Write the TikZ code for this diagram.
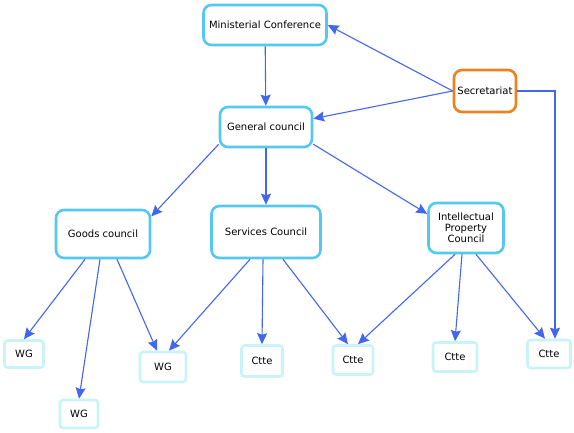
\documentclass[tikz,border=0pt]{standalone}
\usepackage{fontspec}
\setmainfont{DejaVu Sans}
\usetikzlibrary{arrows.meta}
\definecolor{boxcyan}{RGB}{84,200,240}
\definecolor{palecyan}{RGB}{200,244,248}
\definecolor{secorange}{RGB}{238,128,30}
\definecolor{linkblue}{RGB}{68,102,238}

\begin{document}
\begin{tikzpicture}[x=1pt, y=-1pt, >={Stealth[length=11pt,width=10pt,inset=1.5pt]}, every node/.style={font=\fontsize{10}{12.5}\selectfont}]
\tikzstyle{body}=[rectangle, draw=boxcyan, line width=2.6pt, rounded corners=8pt, fill=white, align=center, inner sep=2pt]
\tikzstyle{sec}=[body, draw=secorange]
\tikzstyle{group}=[rectangle, draw=palecyan, line width=2.6pt, rounded corners=3pt, fill=white, align=center, inner sep=2pt]
\tikzstyle{link}=[->, draw=linkblue, line width=1.1pt]
\useasboundingbox (0,0) rectangle (574,433);
\node[body, minimum width=123pt, minimum height=40pt] (conf) at (265,25) {Ministerial Conference};
\node[sec, minimum width=62pt, minimum height=42pt] (secr) at (485,91) {Secretariat};
\node[body, minimum width=92pt, minimum height=40pt] (general) at (266,127) {General council};
\node[body, minimum width=94pt, minimum height=48pt] (goods) at (103,234) {Goods council};
\node[body, minimum width=109pt, minimum height=52pt] (services) at (266,232) {Services Council};
\node[body, minimum width=75pt, minimum height=50pt] (trips) at (466,228) {Intellectual\\[-1.5pt]Property\\[-1.5pt]Council};
\node[group, minimum width=39pt, minimum height=27pt] (wga) at (24,354) {WG};
\node[group, minimum width=38pt, minimum height=28pt] (wgb) at (79,414) {WG};
\node[group, minimum width=46pt, minimum height=30pt] (wgc) at (163,367) {WG};
\node[group, minimum width=41pt, minimum height=31pt] (cta) at (262,361) {Ctte};
\node[group, minimum width=40pt, minimum height=29pt] (ctb) at (353,360) {Ctte};
\node[group, minimum width=44pt, minimum height=29pt] (ctc) at (455,357) {Ctte};
\node[group, minimum width=43pt, minimum height=28pt] (ctd) at (549,354) {Ctte};
% upper levels
\draw[link] (conf) -- (general);
\draw[link] (secr.west) -- (conf.east);
\draw[link] (secr.west) -- (general.10);
\draw[link] (secr.east) -| ([xshift=6pt]ctd.north);
\draw[link] (general.200) -- (goods.20);
\draw[link] (general) -- (services);
\draw[link] (general.-20) -- (trips.160);
% goods council
\draw[link] ([xshift=-18pt]goods.south) -- (wga.north);
\draw[link] ([xshift=-3pt]goods.south) -- (wgb.north);
\draw[link] ([xshift=14pt]goods.south) -- ([xshift=-6pt]wgc.north);
% services council
\draw[link] ([xshift=-16pt]services.south) -- ([xshift=6pt]wgc.north);
\draw[link] ([xshift=-3pt]services.south) -- (cta.north);
\draw[link] ([xshift=17pt]services.south) -- ([xshift=-5pt]ctb.north);
% intellectual property council
\draw[link] ([xshift=-11pt]trips.south) -- ([xshift=5pt]ctb.north);
\draw[link] ([xshift=-4pt]trips.south) -- (ctc.north);
\draw[link] ([xshift=10pt]trips.south) -- ([xshift=-4pt]ctd.north);
\end{tikzpicture}
\end{document}
